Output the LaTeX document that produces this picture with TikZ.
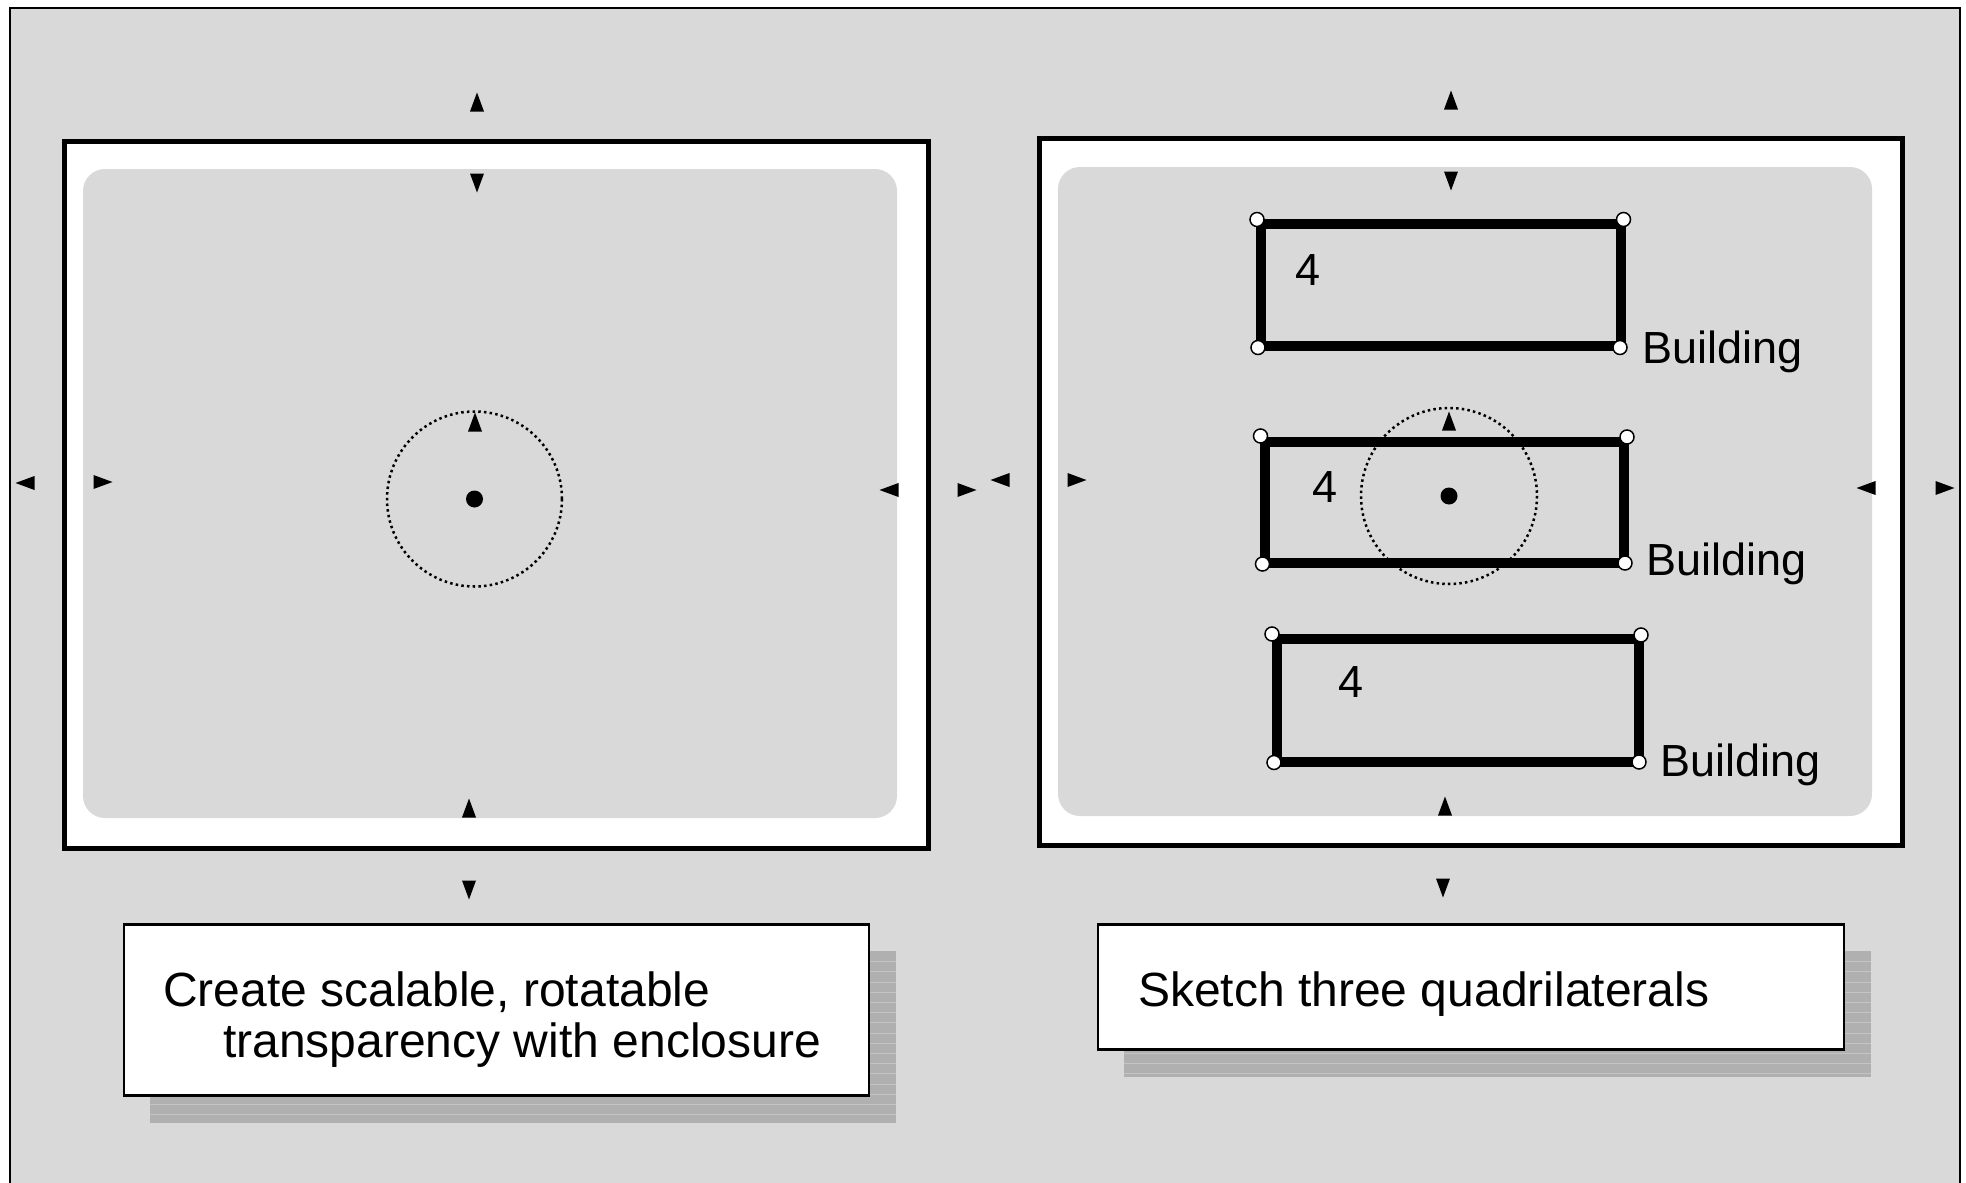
\documentclass[tikz,border=0pt]{standalone}
\usepackage{fontspec}
\setmainfont{Liberation Sans}
\usepackage{xcolor}
\definecolor{canvas}{RGB}{217,217,217}
\definecolor{shadowgray}{RGB}{176,176,176}
\definecolor{shadowline}{RGB}{196,196,196}

\begin{document}
\begin{tikzpicture}[x=1pt, y=-1pt,
    frame/.style={draw=black, line width=5pt, fill=white},
    sheet/.style={fill=canvas, rounded corners=22pt},
    capbox/.style={draw=black, line width=2.7pt, fill=white},
    captext/.style={font=\fontsize{48}{52}\selectfont, inner sep=0pt, anchor=base west},
    lbl/.style={font=\fontsize{45}{50}\selectfont, inner sep=0pt, anchor=base west},
    quad/.style={line width=10pt, line join=miter},
    vertex/.style={circle, draw=black, fill=white, line width=1.5pt, inner sep=0pt, minimum size=14pt},
    reach/.style={dash pattern=on 2.5pt off 3.2pt, line width=2.5pt},
    pivot/.style={circle, fill=black, inner sep=0pt, minimum size=17pt},
    tri up/.pic={\fill (0,-9.5) -- (7,9.5) -- (-7,9.5) -- cycle;},
    tri down/.pic={\fill (0,9.5) -- (7,-9.5) -- (-7,-9.5) -- cycle;},
    tri left/.pic={\fill (-9.5,0) -- (9.5,-7) -- (9.5,7) -- cycle;},
    tri right/.pic={\fill (9.5,0) -- (-9.5,-7) -- (-9.5,7) -- cycle;}]
    \useasboundingbox (0,0) rectangle (1966,1183);
    \fill[white] (0,0) rectangle (1966,1183);
    \clip (0,0) rectangle (1966,1183);
    \draw[fill=canvas, line width=2pt] (10,7.5) rectangle (1960,1210);

    % left panel: transparency
    \draw[frame] (64.5,141) rectangle (928.5,848.5);
    \fill[sheet] (83,169) rectangle (897,818);
    \draw[reach] (474.5,499) circle (87.5);
    \node[pivot] (pivL) at (474.5,499) {};
    \pic at (475,422) {tri up};
    \pic at (477,102) {tri up};
    \pic at (477,183) {tri down};
    \pic at (469,808) {tri up};
    \pic at (469,890) {tri down};
    \pic at (25,483) {tri left};
    \pic at (103,482) {tri right};
    \pic at (889,490) {tri left};
    \pic at (967,490) {tri right};

    % right panel: quadrilaterals
    \draw[frame] (1039,138.5) rectangle (1902,845.5);
    \fill[sheet] (1058,167) rectangle (1872,816);
    \draw[quad] (1261,224) rectangle (1621,346);
    \draw[quad] (1265,442) rectangle (1623.5,563);
    \draw[quad] (1277,639) rectangle (1639,762);
    \coordinate (q1a) at (1257,219.5);  \coordinate (q1b) at (1623.5,219.5);
    \coordinate (q1c) at (1620,347.5);  \coordinate (q1d) at (1258,347.5);
    \coordinate (q2a) at (1260.5,436);  \coordinate (q2b) at (1627,437);
    \coordinate (q2c) at (1625,563);    \coordinate (q2d) at (1262.5,564);
    \coordinate (q3a) at (1272,634);    \coordinate (q3b) at (1641,635);
    \coordinate (q3c) at (1639,762);    \coordinate (q3d) at (1274,762.5);
    \foreach \q in {q1,q2,q3}
        \foreach \c in {a,b,c,d}
            \node[vertex] (\q\c v) at (\q\c) {};
    \node[lbl] (num1) at ([shift={(38,65.5)}]q1a) {4};
    \node[lbl] (num2) at ([shift={(51.5,66)}]q2a) {4};
    \node[lbl] (num3) at ([shift={(66,63)}]q3a) {4};
    \node[lbl] (bld1) at ([shift={(22,15.5)}]q1c) {Building};
    \node[lbl] (bld2) at ([shift={(21,12)}]q2c) {Building};
    \node[lbl] (bld3) at ([shift={(21,14)}]q3c) {Building};
    \draw[reach] (1449,496) circle (88);
    \node[pivot] (pivR) at (1449,496) {};
    \pic at (1449,421) {tri up};
    \pic at (1451,100) {tri up};
    \pic at (1451,181) {tri down};
    \pic at (1445,806) {tri up};
    \pic at (1443,888) {tri down};
    \pic at (1000,480) {tri left};
    \pic at (1077,480) {tri right};
    \pic at (1866,488) {tri left};
    \pic at (1945,488) {tri right};

    % captions with shadows
    \fill[shadowgray] (150,951) rectangle (896,1123);
    \foreach \k in {0,...,15}
        \draw[shadowline, line width=0.8pt] (150,{961.5+10.2*\k}) -- (896,{961.5+10.2*\k});
    \fill[shadowgray] (1124,951) rectangle (1871,1077);
    \foreach \k in {0,...,11}
        \draw[shadowline, line width=0.8pt] (1124,{961.5+10.2*\k}) -- (1871,{961.5+10.2*\k});
    \draw[capbox] (124,924.5) rectangle (869,1095.5);
    \draw[capbox] (1098,924.5) rectangle (1844,1049.5);
    \node[captext] (capA1) at (163,1006) {Create scalable, rotatable};
    \node[captext] (capA2) at (223,1057) {transparency with enclosure};
    \node[captext] (capB) at (1138,1006) {Sketch three quadrilaterals};
\end{tikzpicture}
\end{document}
